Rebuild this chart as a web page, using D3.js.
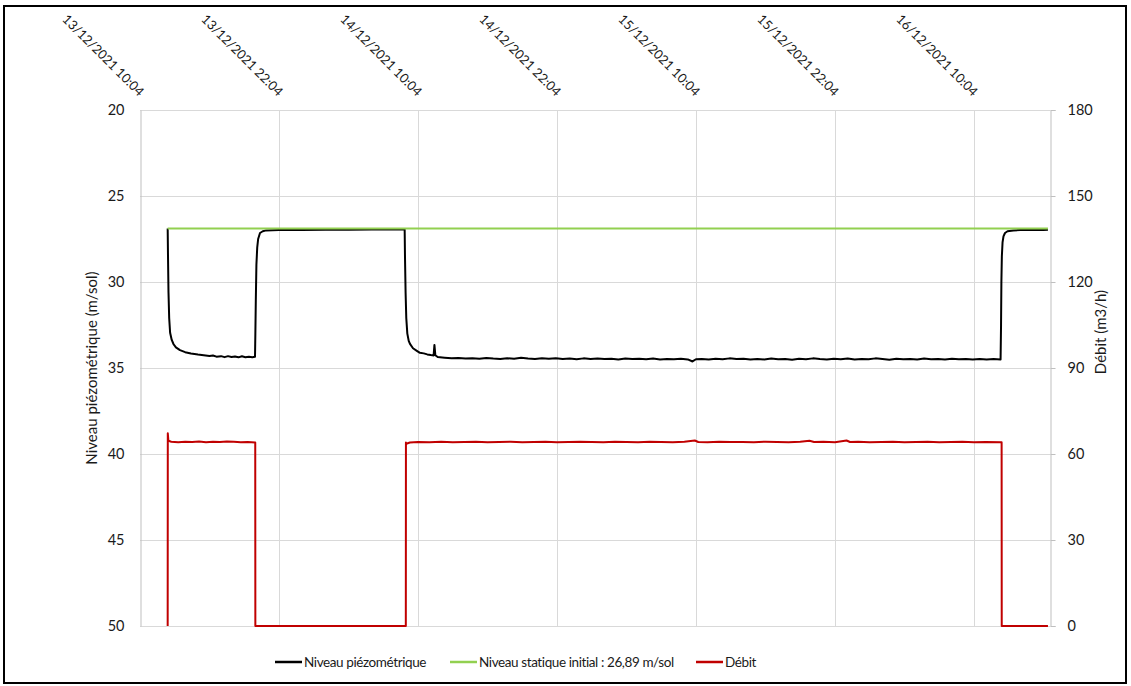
<!DOCTYPE html>
<html>
<head>
<meta charset="utf-8">
<script src="https://cdn.jsdelivr.net/npm/d3@7"></script>
<style>
  body { margin: 0; background: #fff; }
  svg { display: block; font-family: Lato, "Open Sans", sans-serif; }
</style>
</head>
<body>
<svg id="chart" width="1131" height="686"></svg>
<script>
// ---- Data -------------------------------------------------------------
// Times are hours elapsed since the first axis label (13/12/2021 10:04).
const startTime = "13/12/2021 10:04";
const endTime = "16/12/2021 16:38";
const tickLabels = [
  "13/12/2021 10:04", "13/12/2021 22:04", "14/12/2021 10:04",
  "14/12/2021 22:04", "15/12/2021 10:04", "15/12/2021 22:04",
  "16/12/2021 10:04"
];
const levelTicks = [20, 25, 30, 35, 40, 45, 50];
const flowTicks = [0, 30, 60, 90, 120, 150, 180];

// Static level before pumping (m/sol)
const staticLevel = 26.89;
const staticSpan = [2.39, 78.39];

// Piezometric level (m/sol) — first pumping step
const piezoPump1 = [
  [2.39, 26.89], [2.42, 28.6], [2.46, 30.6], [2.52, 32.1], [2.60, 32.95],
  [2.74, 33.37], [2.90, 33.62], [3.10, 33.80], [3.45, 33.96], [3.90, 34.08],
  [4.40, 34.16], [5.00, 34.22], [5.50, 34.26], [6.00, 34.30], [6.30, 34.27],
  [6.60, 34.34], [7.00, 34.31], [7.30, 34.37], [7.60, 34.31], [7.90, 34.36],
  [8.20, 34.33], [8.50, 34.38], [8.80, 34.32], [9.10, 34.37], [9.40, 34.34],
  [9.70, 34.37], [9.93, 34.35]
];
// Recovery after first step
const piezoRecovery1 = [
  [9.96, 33.0], [10.00, 31.0], [10.05, 29.0], [10.12, 28.0], [10.20, 27.5],
  [10.36, 27.15], [10.60, 27.05], [10.90, 27.00], [12.0, 26.98], [14.0, 26.97],
  [16.0, 26.96], [18.0, 26.96], [20.0, 26.95], [22.0, 26.95], [22.85, 26.95]
];
// Second, long pumping step
const piezoPump2 = [
  [22.88, 28.6], [22.93, 30.6], [22.99, 32.1], [23.08, 33.0], [23.20, 33.42],
  [23.31, 33.60], [23.57, 33.85], [23.90, 34.00], [24.17, 34.12], [24.50, 34.15],
  [24.80, 34.21], [25.10, 34.25], [25.35, 34.27], [25.42, 33.66], [25.50, 34.26],
  [25.70, 34.36], [26.3, 34.40], [26.9, 34.44], [27.5, 34.42], [28.1, 34.45],
  [28.7, 34.43], [29.3, 34.46], [29.9, 34.42], [30.5, 34.45], [31.1, 34.47],
  [31.7, 34.43], [32.3, 34.46], [32.9, 34.41], [33.5, 34.45], [34.1, 34.48],
  [34.7, 34.44], [35.3, 34.46], [35.9, 34.43], [36.5, 34.47], [37.1, 34.45],
  [37.7, 34.49], [38.3, 34.44], [38.9, 34.47], [39.5, 34.45], [40.1, 34.48],
  [40.7, 34.46], [41.3, 34.50], [41.9, 34.45], [42.5, 34.48], [43.1, 34.46],
  [43.7, 34.49], [44.3, 34.45], [44.9, 34.50], [45.5, 34.47], [46.1, 34.49],
  [46.7, 34.46], [47.3, 34.50], [47.7, 34.62], [48.0, 34.49], [48.5, 34.47],
  [49.1, 34.51], [49.7, 34.46], [50.3, 34.49], [50.9, 34.44], [51.5, 34.48],
  [52.1, 34.46], [52.7, 34.51], [53.3, 34.47], [53.9, 34.50], [54.5, 34.45],
  [55.1, 34.49], [55.7, 34.47], [56.3, 34.52], [56.9, 34.46], [57.5, 34.49],
  [58.1, 34.44], [58.7, 34.48], [59.3, 34.50], [59.9, 34.46], [60.5, 34.49],
  [61.1, 34.45], [61.7, 34.51], [62.3, 34.47], [62.9, 34.49], [63.5, 34.44],
  [64.1, 34.48], [64.7, 34.52], [65.3, 34.46], [65.9, 34.49], [66.5, 34.47],
  [67.1, 34.51], [67.7, 34.45], [68.3, 34.49], [68.9, 34.47], [69.5, 34.50],
  [70.1, 34.46], [70.7, 34.49], [71.3, 34.48], [71.9, 34.51], [72.5, 34.47],
  [73.1, 34.50], [73.7, 34.48], [74.30, 34.50]
];
// Final recovery
const piezoRecovery2 = [
  [74.34, 32.5], [74.37, 30.0], [74.41, 28.5], [74.47, 27.7], [74.55, 27.35],
  [74.68, 27.15], [74.90, 27.05], [75.40, 27.00], [76.0, 26.98], [77.0, 26.97],
  [78.0, 26.97], [78.39, 26.96]
];

// Pumping rate (m3/h)
const flowStep1 = [
  [2.39, 0], [2.40, 67.2], [2.45, 64.6], [2.70, 64.3], [3.30, 64.1],
  [3.90, 64.3], [4.50, 64.2], [5.10, 64.4], [5.70, 64.1], [6.30, 64.3],
  [6.90, 64.2], [7.50, 64.4], [8.10, 64.3], [8.70, 64.1], [9.30, 64.2],
  [9.95, 64.0]
];
const flowStop1 = [[9.96, 0], [22.95, 0]];
const flowStep2 = [
  [22.96, 64.0], [23.00, 63.6], [23.30, 64.0], [24.0, 64.2], [25.0, 64.1],
  [26.0, 64.3], [27.0, 64.1], [28.0, 64.2], [29.0, 64.3], [30.0, 64.1],
  [31.0, 64.2], [32.0, 64.3], [33.0, 64.1], [34.0, 64.2], [35.0, 64.3],
  [36.0, 64.1], [37.0, 64.2], [38.0, 64.3], [39.0, 64.2], [40.0, 64.1],
  [41.0, 64.3], [42.0, 64.2], [43.0, 64.1], [44.0, 64.3], [45.0, 64.2],
  [46.0, 64.1], [47.0, 64.3], [47.9, 64.7], [48.2, 64.2], [49.0, 64.1],
  [50.0, 64.3], [51.0, 64.2], [52.0, 64.2], [53.0, 64.1], [54.0, 64.3],
  [55.0, 64.2], [56.0, 64.1], [57.0, 64.3], [57.8, 64.6], [58.2, 64.2],
  [59.0, 64.3], [60.0, 64.1], [61.0, 64.7], [61.3, 64.2], [62.0, 64.3],
  [63.0, 64.1], [64.0, 64.2], [65.0, 64.3], [66.0, 64.1], [67.0, 64.2],
  [68.0, 64.3], [69.0, 64.1], [70.0, 64.2], [71.0, 64.3], [72.0, 64.1],
  [73.0, 64.2], [74.39, 64.1]
];
const flowStop2 = [[74.40, 0], [78.39, 0]];

// ---- Layout -----------------------------------------------------------
const plot = { left: 140, right: 1050, top: 110, bottom: 626 };
const svg = d3.select("#chart");
const parseTime = d3.timeParse("%d/%m/%Y %H:%M");
const formatTime = d3.timeFormat("%d/%m/%Y %H:%M");
const t0 = parseTime(startTime);
const at = h => new Date(t0.getTime() + h * 3600e3);

const x = d3.scaleTime().domain([t0, parseTime(endTime)]).range([plot.left, plot.right]);
const yLevel = d3.scaleLinear().domain([20, 50]).range([plot.top, plot.bottom]);
const yFlow = d3.scaleLinear().domain([0, 180]).range([plot.bottom, plot.top]);
const tickDates = tickLabels.map(parseTime);

// Outer frame
svg.append("rect")
  .attr("x", 4).attr("y", 6).attr("width", 1122).attr("height", 677)
  .attr("fill", "none").attr("stroke", "#000").attr("stroke-width", 2);

// Grid
const grid = svg.append("g").attr("stroke", "#d9d9d9").attr("stroke-width", 1);
grid.selectAll("line.h").data(levelTicks).join("line")
  .attr("x1", plot.left).attr("x2", plot.right)
  .attr("y1", d => Math.round(yLevel(d)) + 0.5).attr("y2", d => Math.round(yLevel(d)) + 0.5);
grid.selectAll("line.v").data(tickDates.slice(1)).join("line")
  .attr("y1", plot.top).attr("y2", plot.bottom)
  .attr("x1", d => Math.round(x(d)) + 0.5).attr("x2", d => Math.round(x(d)) + 0.5);

// Left axis (inverted depth)
const axL = svg.append("g").attr("transform", `translate(${plot.left + 0.5},0)`)
  .call(d3.axisLeft(yLevel).tickValues(levelTicks).tickSize(0).tickPadding(16));
// Right axis (flow)
const axR = svg.append("g").attr("transform", `translate(${plot.right + 0.5},0)`)
  .call(d3.axisRight(yFlow).tickValues(flowTicks).tickSize(5).tickPadding(12));
// Top time axis
const axT = svg.append("g").attr("transform", `translate(0,${plot.top})`)
  .call(d3.axisTop(x).tickValues(tickDates).tickFormat(formatTime).tickSize(0));

[axL, axR].forEach(a => {
  a.select(".domain").attr("stroke", "#bfbfbf");
  a.selectAll(".tick line").attr("stroke", "#bfbfbf");
  a.selectAll(".tick text").attr("font-size", 14.5).attr("fill", "#1a1a1a")
    .attr("font-family", "Lato, 'Open Sans', sans-serif");
});
axT.select(".domain").remove();
axT.selectAll(".tick text")
  .attr("font-size", 13).attr("fill", "#1a1a1a")
  .attr("font-family", "Lato, 'Open Sans', sans-serif")
  .attr("text-anchor", "end")
  .attr("x", 0).attr("y", 0).attr("dy", 0)
  .attr("transform", "translate(-2,-13) rotate(45)");

// Axis titles
svg.append("text")
  .attr("transform", `translate(97,${(plot.top + plot.bottom) / 2}) rotate(-90)`)
  .attr("text-anchor", "middle").attr("font-size", 15).attr("fill", "#1a1a1a")
  .text("Niveau piézométrique (m/sol)");
svg.append("text")
  .attr("transform", `translate(1106,332) rotate(-90)`)
  .attr("text-anchor", "middle").attr("font-size", 15).attr("fill", "#1a1a1a")
  .text("Débit (m3/h)");

// ---- Series -----------------------------------------------------------
const colors = { piezo: "#000000", stat: "#92d050", flow: "#c00000" };
const levelLine = d3.line().x(d => x(at(d[0]))).y(d => yLevel(d[1]));
const flowLine = d3.line().x(d => x(at(d[0]))).y(d => yFlow(d[1]));

const piezo = [...piezoPump1, ...piezoRecovery1, ...piezoPump2, ...piezoRecovery2];
const flow = [...flowStep1, ...flowStop1, ...flowStep2, ...flowStop2];
const stat = staticSpan.map(h => [h, staticLevel]);

svg.append("path").datum(piezo).attr("d", levelLine)
  .attr("fill", "none").attr("stroke", colors.piezo).attr("stroke-width", 2)
  .attr("stroke-linejoin", "round");
svg.append("path").datum(stat).attr("d", levelLine)
  .attr("fill", "none").attr("stroke", colors.stat).attr("stroke-width", 2.2);
svg.append("path").datum(flow).attr("d", flowLine)
  .attr("fill", "none").attr("stroke", colors.flow).attr("stroke-width", 2)
  .attr("stroke-linejoin", "round");

// ---- Legend -----------------------------------------------------------
const legendItems = [
  { label: "Niveau piézométrique", color: colors.piezo, x: 275 },
  { label: "Niveau statique initial : 26,89 m/sol", color: colors.stat, x: 450 },
  { label: "Débit", color: colors.flow, x: 696 }
];
const lg = svg.append("g").attr("transform", "translate(0,662)");
const li = lg.selectAll("g").data(legendItems).join("g")
  .attr("transform", d => `translate(${d.x},0)`);
li.append("line").attr("x1", 0).attr("x2", 27).attr("y1", 0).attr("y2", 0)
  .attr("stroke", d => d.color).attr("stroke-width", 2.5);
li.append("text").attr("x", 29).attr("dy", "0.35em")
  .attr("font-size", 13.5).attr("letter-spacing", -0.4)
  .attr("fill", "#1a1a1a").text(d => d.label);
</script>
</body>
</html>
